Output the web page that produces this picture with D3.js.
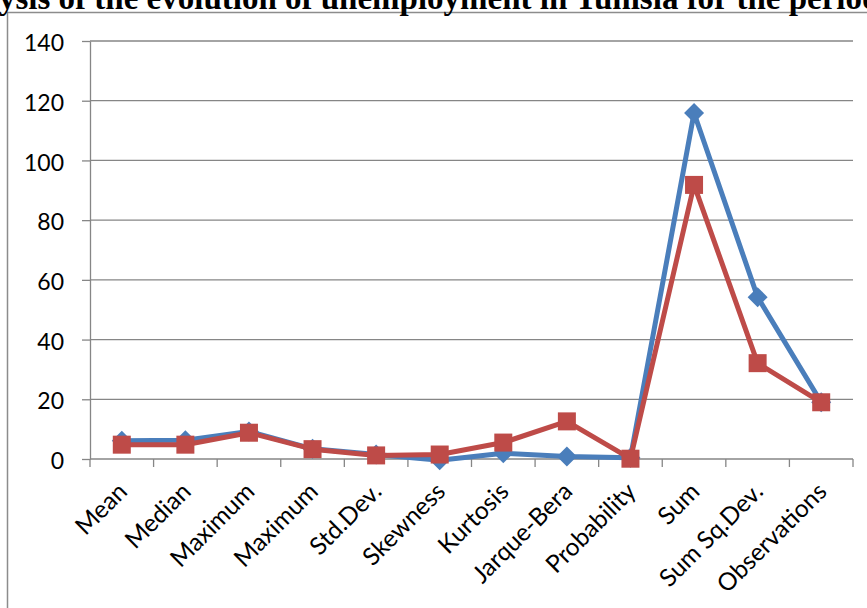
<!DOCTYPE html>
<html>
<head>
<meta charset="utf-8">
<script src="https://cdn.jsdelivr.net/npm/d3@7/dist/d3.min.js"></script>
<style>
html,body{margin:0;padding:0;background:#fff;overflow:hidden;}
svg{display:block;}
</style>
</head>
<body>
<svg id="chart" width="867" height="608"></svg>
<script>
const titleText = "Analysis of the evolution of unemployment in Tunisia for the period";
const categories = ["Mean","Median","Maximum","Maximum","Std.Dev.","Skewness","Kurtosis","Jarque-Bera","Probability","Sum","Sum Sq.Dev.","Observations"];
const seriesBlue = [6.1, 6.3, 9.2, 3.4, 1.5, -0.4, 1.9, 0.8, 0.4, 115.9, 54.2, 19];
const seriesRed  = [4.8, 4.8, 8.8, 3.3, 1.2, 1.5, 5.5, 12.6, 0.1, 91.8, 32.1, 19];
const yTicks = [0, 20, 40, 60, 80, 100, 120, 140];

const svg = d3.select("#chart");
const L = 90, R = 853, T = 41, B = 459;

// outer frame
svg.append("rect").attr("x", 7.5).attr("y", 12.5).attr("width", 900).attr("height", 700)
  .attr("fill", "none").attr("stroke", "#8c8c8c").attr("stroke-width", 1.5);

// title (clipped at left/top)
const title = svg.append("text")
  .attr("y", 9)
  .attr("font-family", "'Liberation Serif','Times New Roman',serif")
  .attr("font-weight", "bold").attr("font-size", 33)
  .attr("fill", "#000").text(titleText);
const off = title.node().getSubStringLength(0, 4);
title.attr("x", -off - 1);

const y = d3.scaleLinear().domain([0, 140]).range([B, T]);
const xBand = d3.scaleBand().domain(d3.range(categories.length)).range([L, R]);
const x = i => xBand(i) + xBand.bandwidth() / 2;

// gridlines
svg.append("g").selectAll("line").data(yTicks.filter(d => d > 0)).join("line")
  .attr("x1", L).attr("x2", R).attr("y1", d => y(d)).attr("y2", d => y(d))
  .attr("stroke", "#868686").attr("stroke-width", 1.3);

// y axis
const yAxis = svg.append("g").attr("transform", `translate(${L},0)`)
  .call(d3.axisLeft(y).tickValues(yTicks).tickSize(8).tickPadding(18).tickSizeOuter(0));
yAxis.select(".domain").attr("stroke", "#868686").attr("stroke-width", 1.3);
yAxis.selectAll(".tick line").attr("stroke", "#868686").attr("stroke-width", 1.3);
yAxis.selectAll(".tick text").attr("font-family", "Lato, 'Open Sans', sans-serif")
  .attr("font-size", 23).attr("fill", "#000").attr("dy", "0.42em");

// x axis
const xAxisG = svg.append("g");
xAxisG.append("line").attr("x1", L).attr("x2", R).attr("y1", B).attr("y2", B)
  .attr("stroke", "#868686").attr("stroke-width", 1.3);
const bounds = d3.range(categories.length + 1).map(i => i < categories.length ? xBand(i) : R);
xAxisG.selectAll("line.tk").data(bounds).join("line").attr("class", "tk")
  .attr("x1", d => d).attr("x2", d => d).attr("y1", B).attr("y2", B + 8)
  .attr("stroke", "#868686").attr("stroke-width", 1.3);
xAxisG.selectAll("text").data(categories).join("text")
  .attr("transform", (d, i) => `translate(${x(i) + 7},${B + 34}) rotate(-45)`)
  .attr("text-anchor", "end")
  .attr("font-family", "Lato, 'Open Sans', sans-serif")
  .attr("font-size", 24.5).attr("fill", "#000")
  .text(d => d);

// lines
const line = d3.line().x((d, i) => x(i)).y(d => y(d));
svg.append("path").datum(seriesBlue).attr("d", line)
  .attr("fill", "none").attr("stroke", "#4a7ebb").attr("stroke-width", 5).attr("stroke-linejoin", "round");
svg.append("g").selectAll("path").data(seriesBlue).join("path")
  .attr("transform", (d, i) => `translate(${x(i)},${y(d)})`)
  .attr("d", "M0,-10L10,0L0,10L-10,0Z").attr("fill", "#4a7ebb");

svg.append("path").datum(seriesRed).attr("d", line)
  .attr("fill", "none").attr("stroke", "#be4b48").attr("stroke-width", 5).attr("stroke-linejoin", "round");
svg.append("g").selectAll("rect").data(seriesRed).join("rect")
  .attr("x", (d, i) => x(i) - 9).attr("y", d => y(d) - 9)
  .attr("width", 18).attr("height", 18).attr("fill", "#be4b48");
</script>
</body>
</html>
